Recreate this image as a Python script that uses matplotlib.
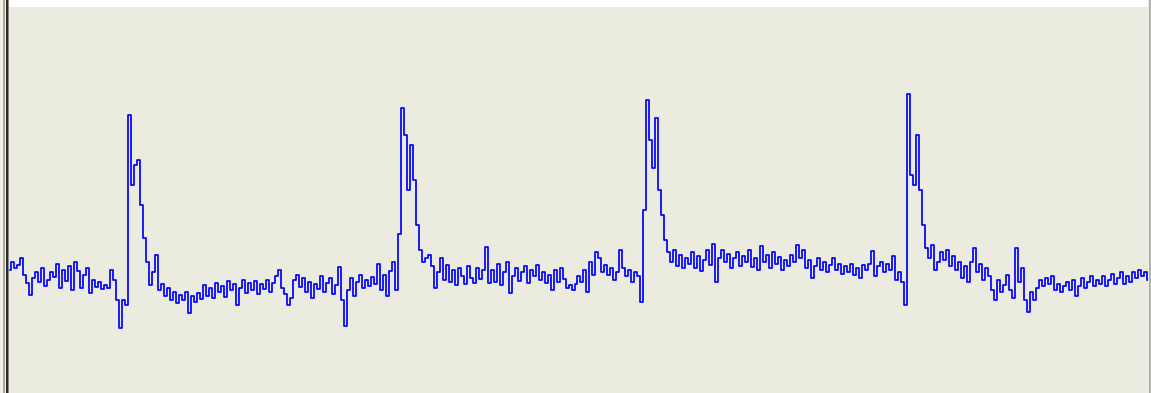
import numpy as np
import matplotlib.pyplot as plt
from matplotlib.lines import Line2D

# Signal samples (arbitrary amplitude units, baseline ~20-30), one per tick
lead_in = [30, 38, 32, 35, 42, 25, 17, 5, 22, 28,
           18, 32, 14, 20, 28, 23, 36, 12, 30, 19,
           34, 10, 38, 29, 12, 25, 32, 7, 20, 13,
           18, 11, 15, 12, 30, 20, 0, -28, 0, -5]
beat_1 = [185, 115, 135, 140, 95, 62, 38, 15, 28, 45,
          10, 16, 4, 12, 0, 8, -3, 5, 0, 8,
          -13, 4, -2, 7, 1, 15, 4, 12, 2, 17,
          8, 14, 3, 19, 10, 16, -5, 12, 20, 7,
          17, 10, 19, 6, 16, 11, 20, 8, 17, 24,
          30, 12, 6, -5, 2, 20, 25, 13, 22, 8,
          18, 2, 16, 11, 24, 8, 17, 22, 6, 15,
          33, 0, -26, 10, 22, 4, 18, 25, 12, 20,
          14, 23, 16, 36, 10, 25, 4, 29, 38, 10]
beat_2 = [66, 192, 165, 110, 155, 120, 75, 50, 38, 42,
          45, 34, 12, 28, 42, 20, 35, 18, 30, 15,
          32, 24, 16, 34, 22, 17, 32, 21, 30, 53,
          17, 30, 18, 36, 15, 28, 38, 7, 24, 32,
          19, 28, 34, 17, 30, 24, 35, 20, 28, 17,
          25, 10, 30, 18, 32, 21, 12, 15, 10, 16,
          24, 18, 30, 8, 38, 25, 48, 42, 28, 35,
          25, 32, 20, 28, 50, 32, 24, 30, 18, 28,
          24]
beat_3 = [-2, 90, 200, 160, 132, 182, 110, 85, 60, 48,
          38, 50, 34, 45, 32, 42, 36, 48, 32, 44,
          29, 40, 50, 35, 56, 18, 42, 50, 38, 46,
          32, 42, 48, 34, 44, 38, 50, 33, 42, 30,
          54, 38, 45, 32, 48, 36, 43, 30, 40, 34,
          45, 38, 55, 42, 50, 32, 40, 22, 34, 42,
          30, 38, 28, 35, 42, 30, 36, 26, 34, 28,
          36, 25, 32, 22, 35, 30, 36, 49, 24, 34,
          38, 28, 36, 30, 44, 20, 28, 18]
beat_4 = [-5, 206, 125, 115, 165, 110, 75, 52, 42, 55,
          30, 38, 48, 40, 50, 34, 44, 30, 38, 22,
          34, 18, 38, 52, 28, 36, 20, 32, 24, 10,
          0, 20, 8, 15, 25, 10, 2, 52, 18, 32,
          0, -12, 8, 0, 12, 20, 14, 22, 16, 24,
          10, 16, 8, 14, 18, 10, 20, 4, 14, 22,
          12, 18, 24, 14, 20, 16, 24, 14, 20, 26,
          16, 22, 28, 16, 24, 18, 28, 22, 30, 24,
          28, 20]

signal = np.array(lead_in + beat_1 + beat_2 + beat_3 + beat_4, dtype=float)
t = np.arange(len(signal))

W, H = 1151, 393
fig = plt.figure(figsize=(W / 100, H / 100), dpi=100)
fig.patch.set_facecolor('white')

# plot area
left, right, top = 9, 1148, 7
ax = fig.add_axes([left / W, 0, (right - left) / W, (H - top) / H])
ax.set_facecolor('#ECEBE0')
ax.plot(t, signal, color='#0000FF', lw=1.25, drawstyle='steps-mid')
ax.set_xlim(-0.33, 380.0)
ax.set_ylim(-93, 293)
ax.set_xticks([])
ax.set_yticks([])
for s in ax.spines.values():
    s.set_visible(False)

# window frame lines
fig.patches.append(plt.Rectangle((0, 0), left / W, 1, transform=fig.transFigure,
                                 facecolor='#F1EFE6', edgecolor='none', zorder=0))
fig.patches.append(plt.Rectangle((right / W, 0), 1 - right / W, 1, transform=fig.transFigure,
                                 facecolor='#ECEBE0', edgecolor='none', zorder=0))
for xpx, col, w in [(3.5, '#B3A896', 2), (6.5, '#2A2A2A', 2), (8.2, '#8A8A8A', 1),
                    (1149.5, '#A0A0A0', 1.5)]:
    fig.add_artist(Line2D([xpx / W, xpx / W], [0, 1], transform=fig.transFigure,
                          color=col, lw=w * 0.72))

fig.savefig('out.png', dpi=100)
